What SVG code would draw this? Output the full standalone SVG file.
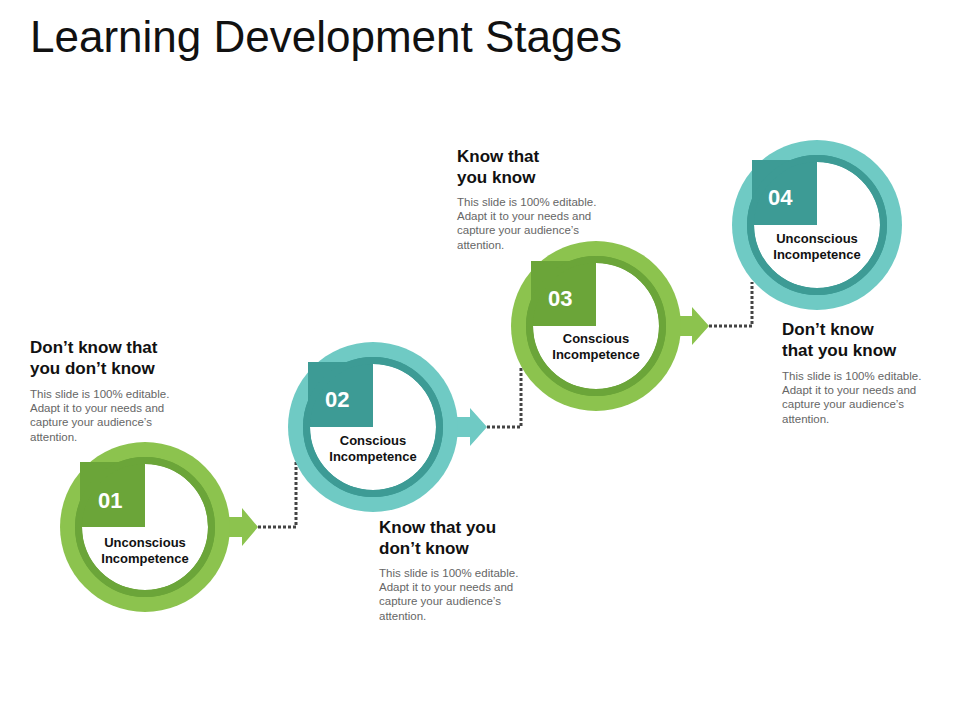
<svg xmlns="http://www.w3.org/2000/svg" width="960" height="720" viewBox="0 0 960 720">
<style>
.t{font-family:"Liberation Sans",Arial,sans-serif}
.h{font-family:"Liberation Sans",Arial,sans-serif;font-weight:bold;font-size:17px;fill:#111}
.b{font-family:"Liberation Sans",Arial,sans-serif;font-size:11.5px;fill:#666}
.n{font-family:"Liberation Sans",Arial,sans-serif;font-weight:bold;font-size:22px;fill:#fff}
.l{font-family:"Liberation Sans",Arial,sans-serif;font-weight:bold;font-size:13px;fill:#111;text-anchor:middle}
.dot{fill:none;stroke:#444;stroke-width:3;stroke-dasharray:3 2}
.go{fill:#8cc34e}.gd{fill:#6ba539}.to{fill:#6fcac4}.td{fill:#3d9b95}
</style>
<rect width="960" height="720" fill="#fff"/>
<text class="t" x="30" y="52" font-size="44" fill="#111">Learning Development Stages</text>
<g id="connectors">
<path class="dot" d="M258 527 H296 V460"/>
<path class="dot" d="M487 427 H521 V368"/>
<path class="dot" d="M709 326 H752 V282"/>
</g>
<g id="node1">
<path class="go" d="M228 517 H242 V508 L258 527 L242 546 V537 H228 Z"/>
<circle class="go" cx="145" cy="527" r="85"/>
<circle class="gd" cx="145" cy="527" r="70"/>
<circle fill="#fff" cx="145" cy="527" r="63"/>
<path class="gd" d="M145 527 V462 H80 V527 Z"/>
<circle fill="none" stroke="#6ba539" stroke-width="7" cx="145" cy="527" r="66.5"/>
<text class="n" x="98" y="508">01</text>
<text class="l" x="145" y="547">Unconscious</text>
<text class="l" x="145" y="563">Incompetence</text>
</g>
<g id="node2">
<path class="to" d="M455 417 H470 V408 L487 427 L470 446 V437 H455 Z"/>
<circle class="to" cx="373" cy="427" r="85"/>
<circle class="td" cx="373" cy="427" r="70"/>
<circle fill="#fff" cx="373" cy="427" r="63"/>
<path class="td" d="M373 427 V362 H308 V427 Z"/>
<circle fill="none" stroke="#3d9b95" stroke-width="7" cx="373" cy="427" r="66.5"/>
<text class="n" x="325" y="407">02</text>
<text class="l" x="373" y="445">Conscious</text>
<text class="l" x="373" y="461">Incompetence</text>
</g>
<g id="node3">
<path class="go" d="M677 316 H692 V307 L709 326 L692 345 V336 H677 Z"/>
<circle class="go" cx="596" cy="326" r="85"/>
<circle class="gd" cx="596" cy="326" r="70"/>
<circle fill="#fff" cx="596" cy="326" r="63"/>
<path class="gd" d="M596 326 V261 H531 V326 Z"/>
<circle fill="none" stroke="#6ba539" stroke-width="7" cx="596" cy="326" r="66.5"/>
<text class="n" x="548" y="306">03</text>
<text class="l" x="596" y="343">Conscious</text>
<text class="l" x="596" y="359">Incompetence</text>
</g>
<g id="node4">
<circle class="to" cx="817" cy="225" r="85"/>
<circle class="td" cx="817" cy="225" r="70"/>
<circle fill="#fff" cx="817" cy="225" r="63"/>
<path class="td" d="M817 225 V160 H752 V225 Z"/>
<circle fill="none" stroke="#3d9b95" stroke-width="7" cx="817" cy="225" r="66.5"/>
<text class="n" x="768" y="205">04</text>
<text class="l" x="817" y="243">Unconscious</text>
<text class="l" x="817" y="259">Incompetence</text>
</g>
<g id="text1">
<text class="h" x="30" y="353">Don’t know that</text>
<text class="h" x="30" y="374">you don’t know</text>
<text class="b" x="30" y="398">This slide is 100% editable.</text>
<text class="b" x="30" y="412">Adapt it to your needs and</text>
<text class="b" x="30" y="426">capture your audience’s</text>
<text class="b" x="30" y="441">attention.</text>
</g>
<g id="text2">
<text class="h" x="379" y="533">Know that you</text>
<text class="h" x="379" y="554">don’t know</text>
<text class="b" x="379" y="577">This slide is 100% editable.</text>
<text class="b" x="379" y="591">Adapt it to your needs and</text>
<text class="b" x="379" y="605">capture your audience’s</text>
<text class="b" x="379" y="620">attention.</text>
</g>
<g id="text3">
<text class="h" x="457" y="162">Know that</text>
<text class="h" x="457" y="183">you know</text>
<text class="b" x="457" y="206">This slide is 100% editable.</text>
<text class="b" x="457" y="220">Adapt it to your needs and</text>
<text class="b" x="457" y="234">capture your audience’s</text>
<text class="b" x="457" y="249">attention.</text>
</g>
<g id="text4">
<text class="h" x="782" y="335">Don’t know</text>
<text class="h" x="782" y="356">that you know</text>
<text class="b" x="782" y="380">This slide is 100% editable.</text>
<text class="b" x="782" y="394">Adapt it to your needs and</text>
<text class="b" x="782" y="408">capture your audience’s</text>
<text class="b" x="782" y="423">attention.</text>
</g>
</svg>
